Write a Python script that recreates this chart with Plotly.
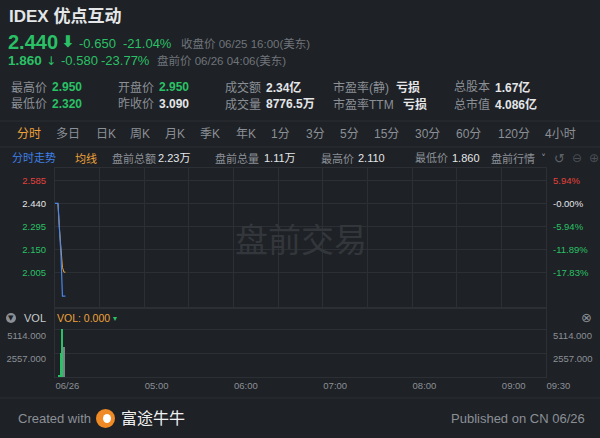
import plotly.graph_objects as go

W, H = 600, 438
BG = "#1e2125"
GRID = "#2c3035"
GREEN = "#2ac066"
RED = "#e5423d"
GRAY = "#8b9097"
WHITE = "#e4e6e8"
ORANGE = "#eda23b"
BLUE = "#4a86e8"
FONT = "Liberation Sans, Noto Sans CJK SC, sans-serif"

# ---- data ----
times = ["2023-06-26 04:00", "2023-06-26 04:01", "2023-06-26 04:02", "2023-06-26 04:03",
         "2023-06-26 04:04", "2023-06-26 04:05", "2023-06-26 04:06", "2023-06-26 04:07"]
price = [2.44, 2.44, 2.44, 2.28, 2.12, 1.86, 1.86, 1.86]
avg_price = [2.44, 2.44, 2.44, 2.28, 2.12, 2.04, 2.01, 2.01]
volume = [0, 0, 0, 150, 2600, 5114, 3250, 0]

price_ticks = [2.585, 2.440, 2.295, 2.150, 2.005]
price_tick_text = ["2.585", "2.440", "2.295", "2.150", "2.005"]
pct_tick_text = ["5.94%", "-0.00%", "-5.94%", "-11.89%", "-17.83%"]
tick_colors = [RED, WHITE, GREEN, GREEN, GREEN]
price_range = [1.792, 2.662]

vol_ticks = [2557, 5114]
vol_tick_text = ["2557.000", "5114.000"]
vol_range = [0, 7290]

grid_times = ["2023-06-26 04:00", "2023-06-26 04:30", "2023-06-26 05:00", "2023-06-26 05:30",
              "2023-06-26 06:00", "2023-06-26 06:30", "2023-06-26 07:00", "2023-06-26 07:30",
              "2023-06-26 08:00", "2023-06-26 08:30", "2023-06-26 09:00", "2023-06-26 09:30"]
label_times = ["2023-06-26 04:00", "2023-06-26 05:00", "2023-06-26 06:00", "2023-06-26 07:00",
               "2023-06-26 08:00", "2023-06-26 09:00", "2023-06-26 09:30"]
label_text = ["06/26", "05:00", "06:00", "07:00", "08:00", "09:00", "09:30"]
x_range = ["2023-06-26 04:00", "2023-06-26 09:30"]

tabs = ["分时", "多日", "日K", "周K", "月K", "季K", "年K", "1分", "3分", "5分", "15分", "30分", "60分", "120分", "4小时"]
tab_x = [15, 54, 94, 128, 163, 198, 234, 269, 304, 338, 372, 413, 454, 496, 543]

# bar colours from price change
bar_colors = []
for i, p in enumerate(price):
    prev = price[i - 1] if i > 0 else p
    bar_colors.append(GREEN if p < prev else (RED if p > prev else "#7d8288"))

fig = go.Figure()
fig.add_trace(go.Scatter(x=times, y=avg_price, mode="lines", line=dict(color=ORANGE, width=1),
                         xaxis="x", yaxis="y", hoverinfo="skip"))
fig.add_trace(go.Scatter(x=times, y=price, mode="lines", line=dict(color=BLUE, width=1.2),
                         xaxis="x", yaxis="y", hoverinfo="skip"))
fig.add_trace(go.Scatter(x=times, y=price, mode="lines", line=dict(width=0), opacity=0,
                         xaxis="x", yaxis="y3", hoverinfo="skip"))
fig.add_trace(go.Bar(x=times, y=volume, marker=dict(color=bar_colors, line=dict(width=0)),
                     width=45000, xaxis="x2", yaxis="y2", hoverinfo="skip"))
fig.add_trace(go.Bar(x=times, y=volume, marker=dict(color=bar_colors, line=dict(width=0)), opacity=0,
                     width=45000, xaxis="x2", yaxis="y4", hoverinfo="skip"))


def span(t, c):
    return f'<span style="color:{c}">{t}</span>'


xdom = [55 / W, 546 / W]
pdom = [(H - 307) / H, (H - 168) / H]
vdom = [(H - 377) / H, (H - 309) / H]
tickfont = dict(family=FONT, size=9.5, color=GRAY)

fig.update_layout(
    width=W, height=H, margin=dict(l=0, r=0, t=0, b=0, pad=0, autoexpand=False),
    paper_bgcolor=BG, plot_bgcolor=BG, showlegend=False, bargap=0,
    font=dict(family=FONT, color=GRAY),
    xaxis=dict(domain=xdom, type="date", range=x_range, tickvals=grid_times, showticklabels=False,
               showgrid=True, gridcolor=GRID, gridwidth=1, showline=True, mirror=True, linecolor=GRID,
               ticks="", zeroline=False, anchor="y", automargin=False),
    yaxis=dict(domain=pdom, range=price_range, tickvals=price_ticks,
               ticktext=[span(t, c) for t, c in zip(price_tick_text, tick_colors)],
               tickfont=tickfont, showgrid=True, gridcolor=GRID, showline=True, mirror=True,
               linecolor=GRID, ticks="", zeroline=False, ticklabelstandoff=6, anchor="x",
               automargin=False),
    yaxis3=dict(domain=pdom, range=price_range, overlaying="y", side="right", tickvals=price_ticks,
                ticktext=[span(t, c) for t, c in zip(pct_tick_text, tick_colors)],
                tickfont=tickfont, showgrid=False, ticks="", zeroline=False, ticklabelstandoff=6,
                anchor="x", automargin=False),
    xaxis2=dict(domain=xdom, type="date", range=x_range, tickvals=label_times, ticktext=label_text,
                ticklabelposition="outside right", tickfont=tickfont, showgrid=False, showline=True,
                mirror=True, linecolor=GRID, ticks="", zeroline=False, anchor="y2", automargin=False),
    yaxis2=dict(domain=vdom, range=vol_range, tickvals=vol_ticks, ticktext=vol_tick_text,
                tickfont=tickfont, showgrid=True, gridcolor=GRID, showline=True, mirror=True,
                linecolor=GRID, ticks="", zeroline=False, ticklabelshift=6, ticklabelstandoff=6,
                anchor="x2", automargin=False),
    yaxis4=dict(domain=vdom, range=vol_range, overlaying="y2", side="right", tickvals=vol_ticks,
                ticktext=vol_tick_text, tickfont=tickfont, showgrid=False, ticks="", zeroline=False,
                ticklabelshift=6, ticklabelstandoff=6, anchor="x2", automargin=False),
)

ann = []


def A(text, x, y, size=12, color=GRAY, bold=False, anchor="left", family=FONT):
    if bold:
        text = f"<b>{text}</b>"
    ann.append(dict(text=text, x=x / W, y=1 - y / H, xref="paper", yref="paper", xanchor=anchor,
                    yanchor="middle", showarrow=False, font=dict(size=size, color=color, family=family)))


# header
A("IDEX 优点互动", 7, 17, 17, WHITE, True)
A("2.440", 6, 42, 20, GREEN, True)
A("⬇", 59, 42, 16, GREEN, True, family="DejaVu Sans")
A("-0.650", 77, 43, 13, GREEN)
A("-21.04%", 121, 43, 13, GREEN)
A("收盘价 06/25 16:00(美东)", 179, 43, 11.5, "#6f747b")
A("1.860", 6, 61, 13.5, GREEN, True)
A("↓", 44, 61, 12, GREEN, family="DejaVu Sans")
A("-0.580", 59, 61, 13, GREEN)
A("-23.77%", 99, 61, 13, GREEN)
A("盘前价 06/26 04:06(美东)", 155, 61, 11.5, "#6f747b")

rows = [
    (87, [("最高价", 9, "2.950", 50, GREEN), ("开盘价", 116, "2.950", 157, GREEN),
          ("成交额", 223, "2.34亿", 264, WHITE), ("市盈率(静)", 331, "亏损", 394, WHITE),
          ("总股本", 452, "1.67亿", 493, WHITE)]),
    (104, [("最低价", 9, "2.320", 50, GREEN), ("昨收价", 116, "3.090", 157, WHITE),
           ("成交量", 223, "8776.5万", 264, WHITE), ("市盈率TTM", 331, "亏损", 401, WHITE),
           ("总市值", 452, "4.086亿", 493, WHITE)]),
]
for y, items in rows:
    for lab, lx, val, vx, vc in items:
        A(lab, lx, y, 12, GRAY)
        A(val, vx, y, 12, vc, True)

# tabs
for t, x in zip(tabs, tab_x):
    A(t, x, 134, 12, ORANGE if t == "分时" else GRAY)

# info row
A("分时走势", 10, 158, 11, "#3f80e6")
A("均线", 73, 158, 11, ORANGE)
A("盘前总额", 110, 158, 11, GRAY)
A("2.23万", 156, 158, 11, WHITE)
A("盘前总量", 213, 158, 11, GRAY)
A("1.11万", 262, 158, 11, WHITE)
A("最高价", 319, 158, 11, GRAY)
A("2.110", 356, 158, 11, WHITE)
A("最低价", 413, 158, 11, GRAY)
A("1.860", 450, 158, 11, WHITE)
A("盘前行情", 489, 158, 11, GRAY)
A("˅", 539, 158, 10, GRAY, family="DejaVu Sans")
A("↺", 552, 158, 13, "#5d6268", family="DejaVu Sans")
A("⊖", 570, 158, 12, "#4a4f55", family="DejaVu Sans")
A("⊕", 587, 158, 12, "#4a4f55", family="DejaVu Sans")

# watermark
A("盘前交易", 301, 240, 33, "#33373c", anchor="center")

# volume header
A("▼", 11, 318, 7, BG, anchor="center", family="DejaVu Sans")
A("VOL", 22, 318, 11, "#c8cbce")
A("VOL: 0.000", 55, 318, 10.5, ORANGE)
A("▾", 111, 318, 8, GREEN, family="DejaVu Sans")
A("⊗", 586, 317, 13, GRAY, anchor="center", family="DejaVu Sans")

# footer
A("Created with", 16, 418, 13, GRAY)
A("富途牛牛", 119, 418, 16, "#f0f0f0")
A("Published on CN 06/26", 587, 418, 13, GRAY, anchor="right")

fig.update_layout(annotations=ann)

shapes = []
for yy in [121, 147, 398]:
    shapes.append(dict(type="line", xref="paper", yref="paper", x0=0, x1=1, y0=1 - yy / H, y1=1 - yy / H,
                       line=dict(color="#2a2e33", width=1)))
# VOL icon circle
shapes.append(dict(type="circle", xref="paper", yref="paper", x0=6 / W, x1=16 / W,
                   y0=1 - 323 / H, y1=1 - 313 / H, fillcolor="#8b9097", line=dict(width=0), layer="below"))
# logo
shapes.append(dict(type="circle", xref="paper", yref="paper", x0=96 / W, x1=115 / W,
                   y0=1 - 428 / H, y1=1 - 409 / H, fillcolor="#f08a24", line=dict(width=0)))
shapes.append(dict(type="circle", xref="paper", yref="paper", x0=103 / W, x1=111 / W,
                   y0=1 - 423 / H, y1=1 - 414 / H, fillcolor="#ffffff", line=dict(width=0)))
fig.update_layout(shapes=shapes)

post = ("document.body.style.margin='0';document.body.style.overflow='hidden';"
        "document.body.style.background='" + BG + "';")

fig.write_html("out.html", config={"displayModeBar": False}, post_script=post)
